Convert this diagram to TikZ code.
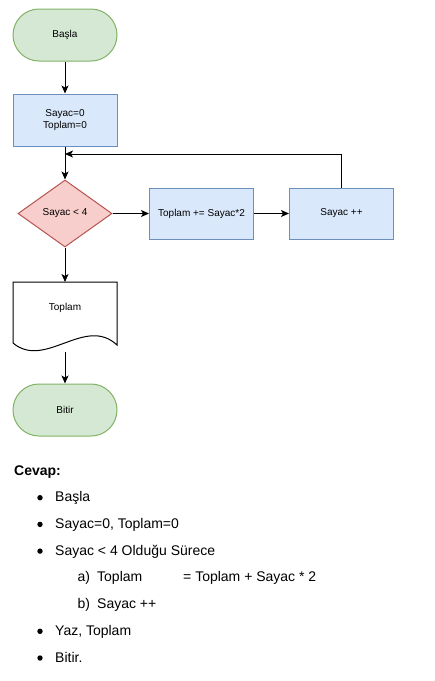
\documentclass[tikz,border=0pt]{standalone}
\usepackage{fontspec}
\setmainfont{Liberation Sans}
\usetikzlibrary{arrows.meta,shapes.geometric}
\definecolor{termfill}{HTML}{D5E8D4}
\definecolor{termline}{HTML}{82B366}
\definecolor{procfill}{HTML}{DAE8FC}
\definecolor{procline}{HTML}{6C8EBF}
\definecolor{decfill}{HTML}{F8CECC}
\definecolor{decline}{HTML}{B85450}
\begin{document}
\begin{tikzpicture}[x=1pt,y=-1pt,
  every node/.style={font=\fontsize{10}{12}\selectfont, inner sep=0pt, align=center},
  terminal/.style={draw=termline, fill=termfill, line width=1pt, rectangle, rounded corners=26pt, minimum width=104pt, minimum height=52pt},
  procbox/.style={draw=procline, fill=procfill, line width=1pt, rectangle, minimum width=104pt, minimum height=52pt},
  decision/.style={draw=decline, fill=decfill, line width=1pt, diamond, minimum width=94pt, minimum height=67pt},
  arr/.style={draw=black, line width=1pt, -{Stealth[length=8pt,width=7pt,inset=2pt]}},
  listtxt/.style={font=\fontsize{14}{16}\selectfont, anchor=base west},
  bul/.style={fill=black}
]
\useasboundingbox (0,0) rectangle (435,681);
\fill[white] (0,0) rectangle (435,681);

\node[terminal] (start) at (65,35) {Başla};
\node[procbox] (init) at (65,120) {Sayac=0\\Toplam=0};
\node[decision] (cond) at (65,213.5) {Sayac < 4};
\node[procbox, minimum height=51pt] (add) at (201.5,213.5) {Toplam += Sayac*2};
\node[procbox, minimum height=51pt] (inc) at (341.5,213.5) {Sayac ++};
\draw[black, line width=1pt, fill=white] (13,282) -- (117,282) -- (117,345)
   .. controls (85,315) and (45,370) .. (13,343) -- cycle;
\node (doc) at (65,308) {Toplam};
\coordinate (docbot) at (65,352);
\node[terminal] (stop) at (65,410) {Bitir};
\coordinate (join) at (65,154);

\draw[arr] (start) -- (init);
\draw[arr] (init) -- (cond);
\draw[arr] (cond) -- (add);
\draw[arr] (add) -- (inc);
\draw[arr] (inc.north) |- (join);
\draw[arr] (cond.south) -- (65,282);
\draw[arr] (docbot) -- (stop);

\node[listtxt, font=\fontsize{14}{16}\selectfont\bfseries] (cevap) at (14,475) {Cevap:};
\fill[bul] (40,497.7) circle (2.7);
\node[listtxt] (l1) at (55,501.7) {Başla};
\fill[bul] (40,524.4) circle (2.7);
\node[listtxt] (l2) at (55,528.4) {Sayac=0, Toplam=0};
\fill[bul] (40,551.1) circle (2.7);
\node[listtxt] (l3) at (55,555.1) {Sayac < 4 Olduğu Sürece};
\node[listtxt] (l4a) at (77.5,581.9) {a)};
\node[listtxt] (l4b) at (97,581.9) {Toplam};
\node[listtxt] (l4c) at (183,581.9) {= Toplam + Sayac * 2};
\node[listtxt] (l5a) at (77.5,608.6) {b)};
\node[listtxt] (l5b) at (97,608.6) {Sayac ++};
\fill[bul] (40,631.3) circle (2.7);
\node[listtxt] (l6) at (55,635.3) {Yaz, Toplam};
\fill[bul] (40,658) circle (2.7);
\node[listtxt] (l7) at (55,662) {Bitir.};
\end{tikzpicture}
\end{document}
